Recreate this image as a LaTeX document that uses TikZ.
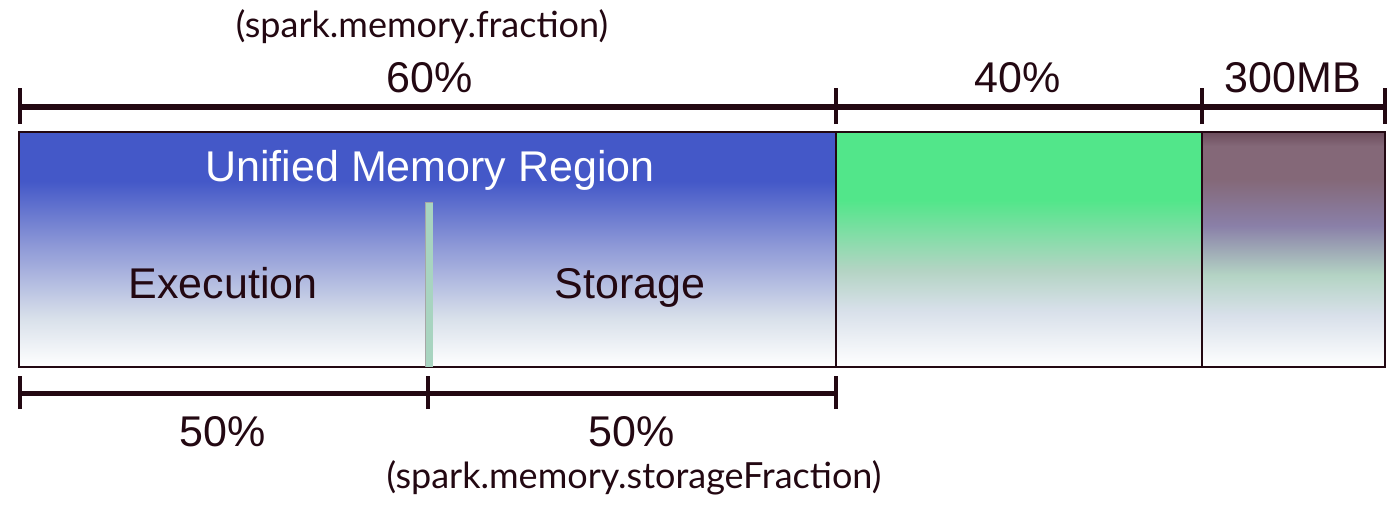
\documentclass[tikz,border=0pt]{standalone}
\usepackage{fontspec}
\setmainfont{Liberation Sans}
\newfontfamily\latofont{Lato}
\definecolor{ink}{RGB}{35,8,18}
\definecolor{umblue}{HTML}{4458C8}
\definecolor{midblue}{HTML}{8A95D6}
\definecolor{paleblue}{HTML}{D8E0EA}
\definecolor{umgreen}{HTML}{52E68A}
\definecolor{sage}{HTML}{B4D4C4}
\definecolor{mauve}{HTML}{846878}
\definecolor{darkmauve}{HTML}{6C4C5C}
\definecolor{violetmix}{HTML}{8A80A8}
\definecolor{barcol}{HTML}{A8D4C0}
\pgfdeclareverticalshading{blueshade}{100bp}{color(0bp)=(white); color(25bp)=(white); color(35.5bp)=(paleblue); color(51.5bp)=(midblue); color(64.5bp)=(umblue); color(100bp)=(umblue)}
\pgfdeclareverticalshading{greenshade}{100bp}{color(0bp)=(white); color(25bp)=(white); color(37bp)=(paleblue); color(45.5bp)=(sage); color(60.5bp)=(umgreen); color(100bp)=(umgreen)}
\pgfdeclareverticalshading{mauveshade}{100bp}{color(0bp)=(white); color(25bp)=(white); color(36bp)=(paleblue); color(44.5bp)=(sage); color(55bp)=(violetmix); color(65bp)=(mauve); color(72bp)=(mauve); color(75bp)=(darkmauve); color(100bp)=(darkmauve)}
\tikzset{
  bracket/.style={draw=ink, line width=6pt},
  tick/.style={draw=ink, line width=4pt},
  region/.style={draw=ink, line width=2pt},
  biglabel/.style={text=ink, font=\fontsize{43}{50}\selectfont, inner sep=0pt, anchor=base},
  paramlabel/.style={text=ink, font=\latofont\fontsize{36}{42}\selectfont, inner sep=0pt, anchor=base},
}
\begin{document}
\begin{tikzpicture}[x=1pt,y=-1pt]
\useasboundingbox (0,0) rectangle (1400,509);
% regions
\shade[shading=blueshade] (19,132) rectangle (836,367);
\shade[shading=greenshade] (836,132) rectangle (1202,367);
\shade[shading=mauveshade] (1202,132) rectangle (1385,367);
\draw[region] (19,132) rectangle (836,367);
\draw[region] (836,132) rectangle (1202,367);
\draw[region] (1202,132) rectangle (1385,367);
% storage divider
\fill[barcol] (425,202) rectangle (433,367);
\draw[gray!70, line width=0.8pt] (425,367) -- (425,202) -- (433,202);
% top bracket
\coordinate (t0) at (20,107);
\coordinate (t1) at (836,107);
\coordinate (t2) at (1202,107);
\coordinate (t3) at (1385,107);
\draw[bracket] (t0) -- (t3);
\foreach \c in {t0,t1,t2,t3} \draw[tick] ([yshift=-17pt]\c) -- ([yshift=19pt]\c);
% bottom bracket
\coordinate (b0) at (20,393);
\coordinate (b1) at (428,393);
\coordinate (b2) at (836,393);
\draw[bracket, line width=5pt] (b0) -- (b2);
\foreach \c in {b0,b1,b2} \draw[tick] ([yshift=-16pt]\c) -- ([yshift=17pt]\c);
% labels
\node[paramlabel] (pfrac) at (422,37) {(spark.memory.fraction)};
\node[biglabel] (p60) at (430,92) {60\%};
\node[biglabel] (p40) at (1018,92) {40\%};
\node[biglabel] (p300) at (1293,92) {300MB};
\node[biglabel, text=white] (umr) at (430,181) {Unified Memory Region};
\node[biglabel] (exec) at (223,298) {Execution};
\node[biglabel] (stor) at (630,298) {Storage};
\node[biglabel] (e50) at (223,446) {50\%};
\node[biglabel] (s50) at (632,446) {50\%};
\node[paramlabel] (psf) at (634,488) {(spark.memory.storageFraction)};
\end{tikzpicture}
\end{document}
